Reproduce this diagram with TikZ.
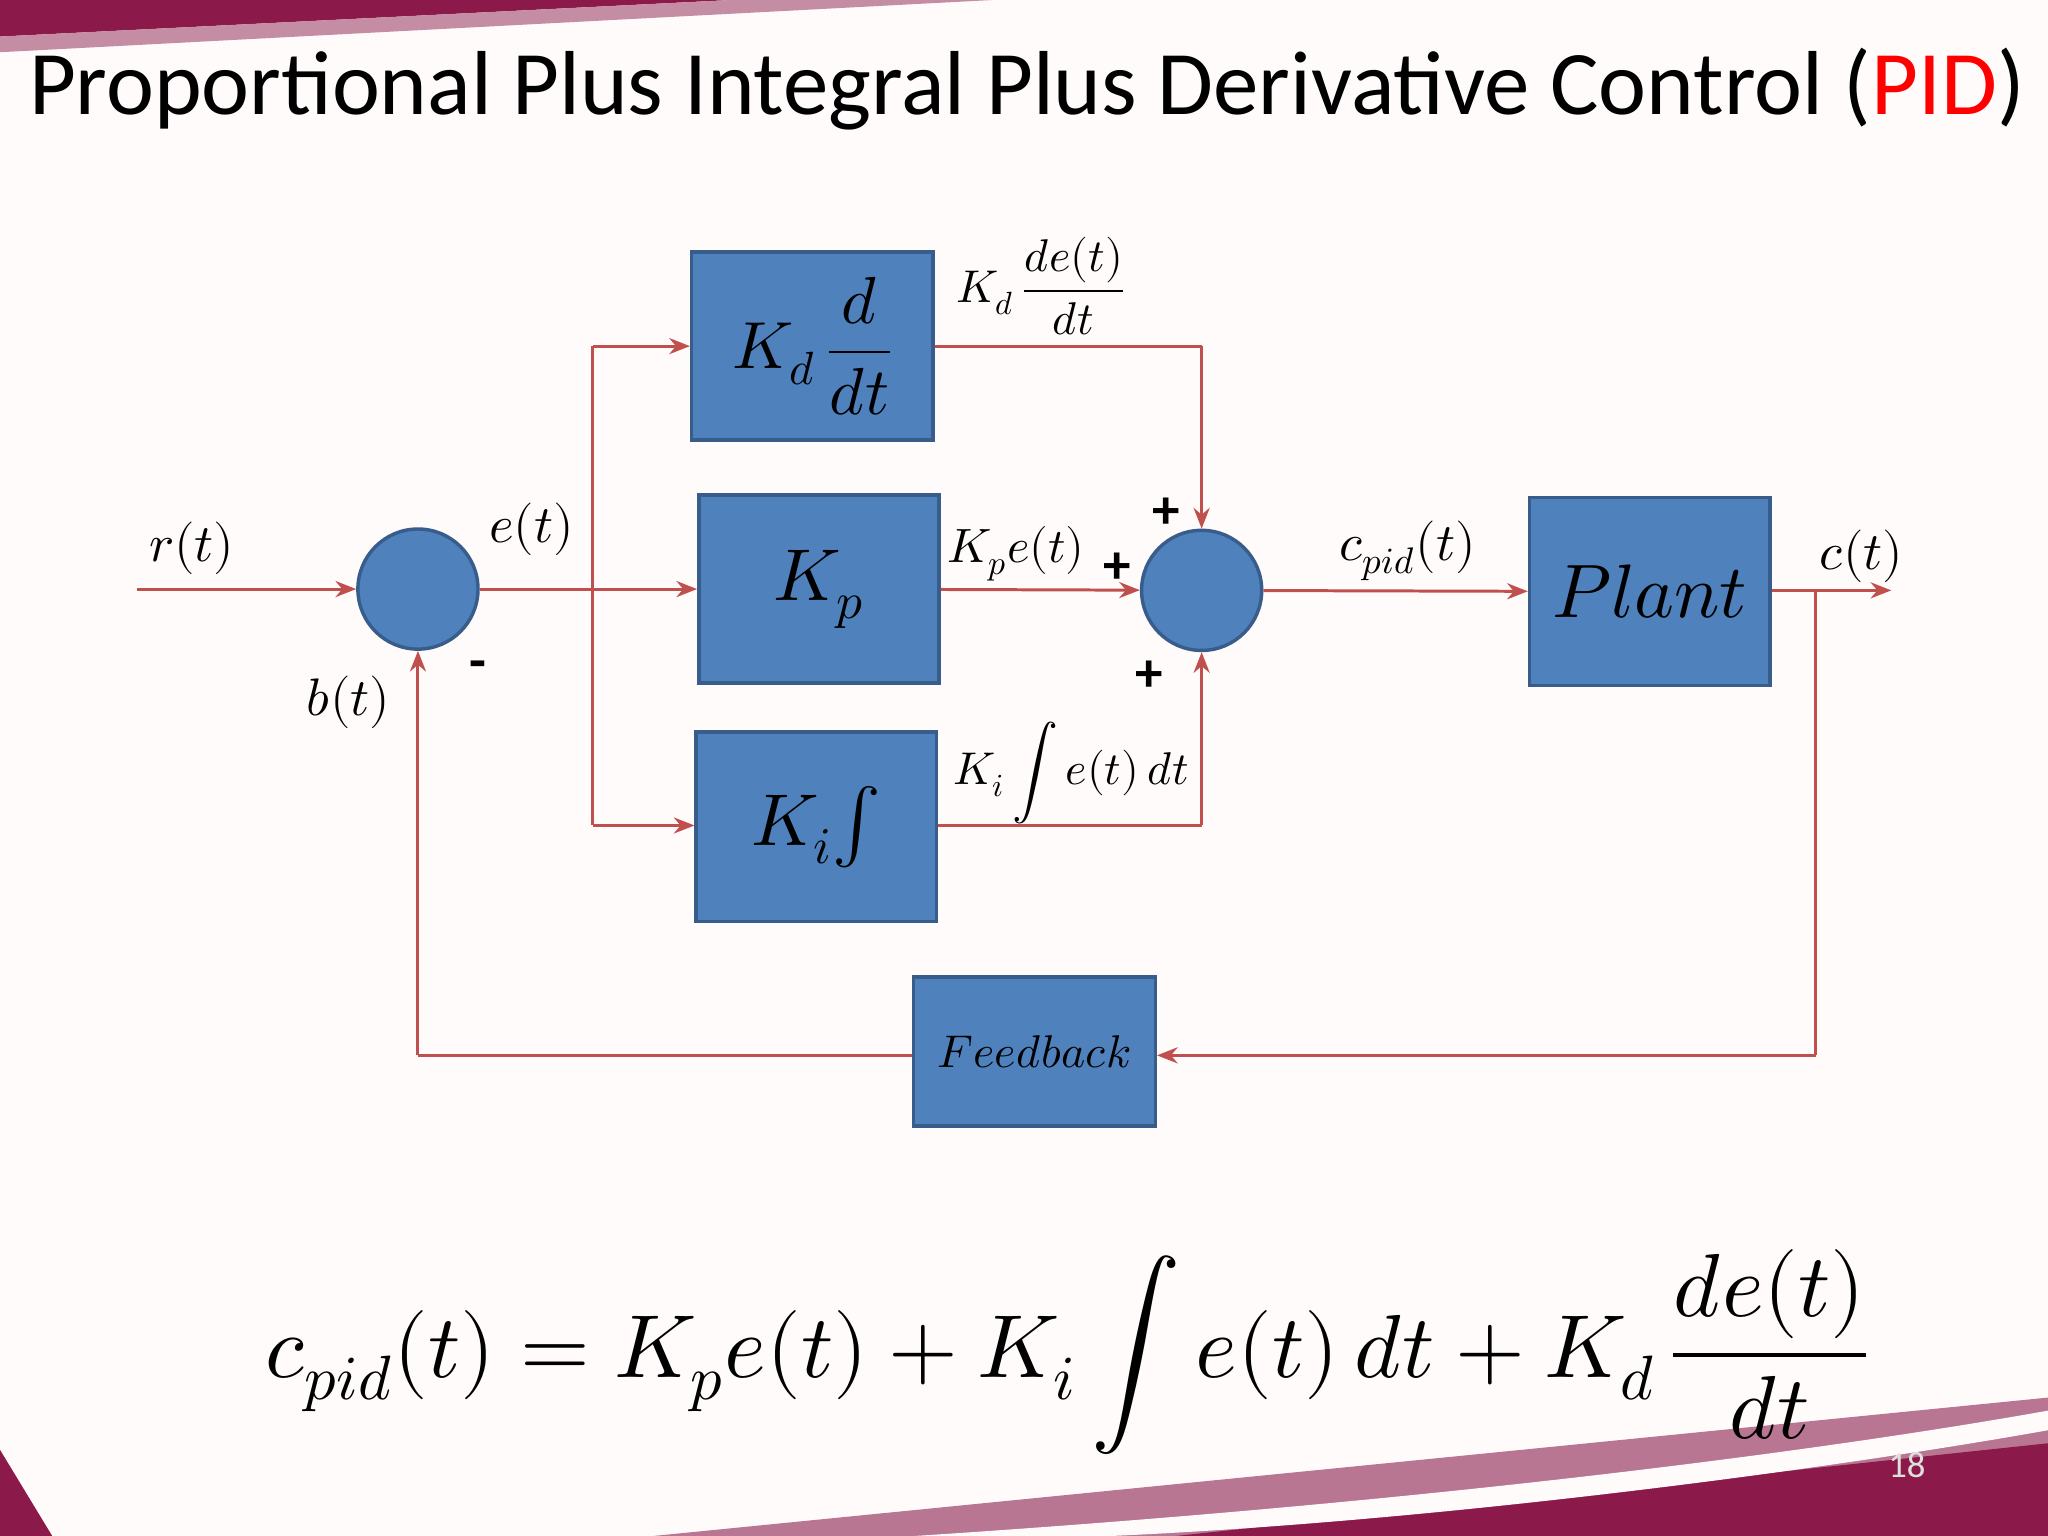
\documentclass[tikz,border=0pt]{standalone}
\usepackage{amsmath}
\usepackage{fontspec}
\usepackage{unicode-math}
\setmathfont{Latin Modern Math}
\setsansfont{Carlito}
\usetikzlibrary{arrows.meta}
\definecolor{bfill}{HTML}{4F81BD}
\definecolor{bdraw}{HTML}{385D8A}
\definecolor{wire}{HTML}{C0504D}
\definecolor{mag}{HTML}{8B1A4A}
\newcommand{\fs}[1]{\fontsize{#1}{#1}\selectfont}
\begin{document}
\begin{tikzpicture}[x=0.02cm,y=-0.02cm,
  blk/.style={draw=bdraw,line width=1.5pt,fill=bfill,inner sep=0pt},
  sumc/.style={circle,draw=bdraw,line width=1.5pt,fill=bfill,minimum size=1.84cm,inner sep=0pt},
  wr/.style={draw=wire,line width=1.3pt},
  ar/.style={wr,-{Stealth[length=9pt,width=7pt]}},
  lbl/.style={font=\fs{23}},
  pm/.style={font=\sffamily\bfseries\fs{24}}]
\fill[white!93!pink] (0,0) rectangle (1568,1176);
\useasboundingbox (0,0) rectangle (1568,1176);
% decorative bands
\fill[mag] (0,0) -- (560,0) -- (0,28) -- cycle;
\fill[mag!50] (0,28) -- (560,0) -- (760,0) -- (0,40) -- cycle;
\fill[mag] (0,1176) -- (0,1110) -- (40,1176) -- cycle;
\fill[mag!60] (500,1176) -- (1568,1070) -- (1568,1176) -- cycle;
\fill[mag] (900,1176) -- (1568,1105) -- (1568,1176) -- cycle;
\fill[white!93!pink] (700,1176) .. controls (1100,1150) and (1400,1110) .. (1568,1080) -- (1568,1095) .. controls (1400,1125) and (1100,1165) .. (850,1176) -- cycle;
% title
\node[anchor=west,font=\sffamily\fs{39.6}] (title) at (16,68) {Proportional Plus Integral Plus Derivative Control (\textcolor{red}{PID})};
% blocks
\node[blk,minimum width=3.7cm,minimum height=2.88cm] (kd) at (622,265) {\fs{29}$K_d\,\dfrac{d}{dt}$};
\node[blk,minimum width=3.68cm,minimum height=2.88cm] (kp) at (627,451) {\fs{32}$K_p$};
\node[blk,minimum width=3.68cm,minimum height=2.9cm] (ki) at (625,633) {\fs{32}$K_i\!\int$};
\node[blk,minimum width=3.68cm,minimum height=2.88cm] (plant) at (1263,453) {\fs{33}$Plant$};
\node[blk,minimum width=3.7cm,minimum height=2.28cm] (fb) at (792,805) {\fs{20}$Feedback$};
\node[sumc] (s1) at (320,451) {};
\node[sumc] (s2) at (920,452) {};
% coordinates
\coordinate (in) at (105,451);
\coordinate (bt) at (454,265);
\coordinate (bb) at (454,632);
\coordinate (kdc) at (920,265);
\coordinate (kic) at (920,632);
\coordinate (out) at (1448,452);
\coordinate (ot) at (1390,452);
\coordinate (ob) at (1390,808);
\coordinate (fl) at (320,808);
% wires
\draw[ar] (in) -- (s1);
\draw[ar] (s1) -- (kp);
\draw[wr] (bt) -- (bb);
\draw[ar] (bt) -- (kd.west|-bt);
\draw[ar] (bb) -- (ki.west|-bb);
\draw[wr] (kd.east|-kdc) -- (kdc);
\draw[ar] (kdc) -- (s2.north);
\draw[ar] (kp) -- (s2);
\draw[wr] (ki.east|-kic) -- (kic);
\draw[ar] (kic) -- (s2.south);
\draw[ar] (s2) -- (plant);
\draw[ar] (plant.east|-out) -- (out);
\draw[wr] (ot) -- (ob);
\draw[ar] (ob) -- (fb.east|-ob);
\draw[wr] (fb.west|-fl) -- (fl);
\draw[ar] (fl) -- (s1.south);
% labels
\node[lbl] (lr) at (147,420) {$r(t)$};
\node[lbl] (le) at (407,405) {$e(t)$};
\node[lbl] (lb) at (267,538) {$b(t)$};
\node[pm] (mn) at (366,513) {-};
\node[pm] (p1) at (893,393) {+};
\node[pm] (p2) at (855,435) {+};
\node[pm] (p3) at (880,518) {+};
\node[font=\fs{20}] (lkd) at (797,219) {$K_d\,\dfrac{de(t)}{dt}$};
\node[font=\fs{21}] (lkp) at (778,424) {$K_pe(t)$};
\node[font=\fs{20}] (lki) at (820,592) {$K_i\displaystyle\int e(t)\,dt$};
\node[lbl] (lcp) at (1078,422) {$c_{pid}(t)$};
\node[lbl] (lc) at (1425,426) {$c(t)$};
% equation
\node[font=\fs{39}] (eq) at (817,1035) {$c_{pid}(t)=K_pe(t)+K_i\displaystyle\int e(t)\,dt+K_d\,\frac{de(t)}{dt}$};
\node[font=\sffamily\fs{16},text=white!75!gray] (pg) at (1460,1122) {18};
\end{tikzpicture}
\end{document}
